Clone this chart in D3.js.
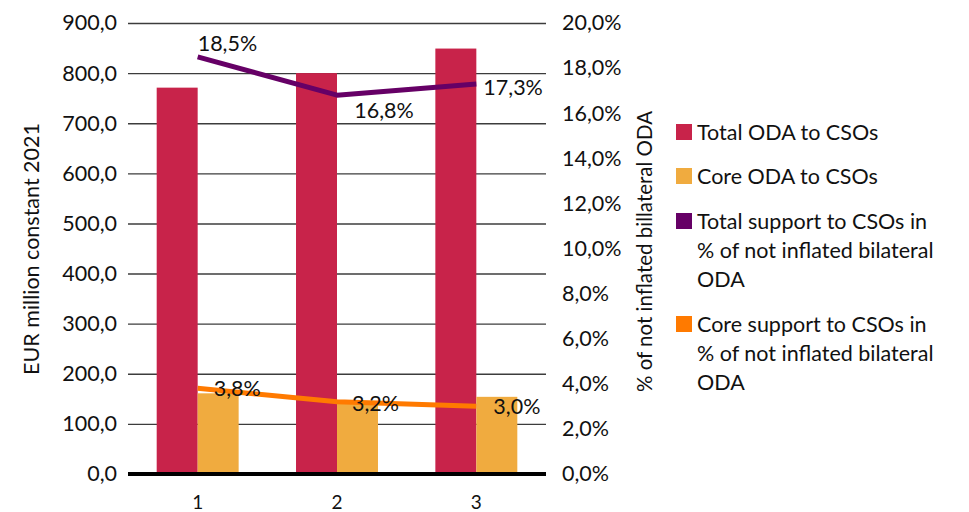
<!DOCTYPE html>
<meta charset="utf-8">
<head>
  <title>ODA to CSOs</title>
</head>

<style>
  body { margin: 0; background: #fff; }
  svg text { font-family: Lato, "Open Sans", sans-serif; fill: #111; }
</style>

<body>
  <div id="chart"></div>

  <script src="https://d3js.org/d3.v7.min.js"></script>
  <script>

  // data
  var categories = ["1", "2", "3"];
  var totalODA = [771, 800, 849];       // EUR million
  var coreODA = [161, 146, 154];        // EUR million
  var totalShare = [18.5, 16.8, 17.3];  // % of not inflated bilateral ODA
  var coreShare = [3.8, 3.2, 3.0];
  var leftTicks = [0, 100, 200, 300, 400, 500, 600, 700, 800, 900];
  var rightTicks = [0, 2, 4, 6, 8, 10, 12, 14, 16, 18, 20];
  var legendItems = [
    {label: ["Total ODA to CSOs"], color: "#c8234a"},
    {label: ["Core ODA to CSOs"], color: "#f0ab3f"},
    {label: ["Total support to CSOs in", "% of not inflated bilateral", "ODA"], color: "#660066"},
    {label: ["Core support to CSOs in", "% of not inflated bilateral", "ODA"], color: "#ff7a00"}
  ];

  // comma decimal separator like the original
  var locale = d3.formatLocale({decimal: ",", thousands: ".", grouping: [3], currency: ["", "€"]});
  var fmtL = locale.format(".1f");
  var fmtR = function(d) { return locale.format(".1f")(d) + "%"; };

  var W = 969, H = 512;
  var margin = {top: 23, left: 128, right: 423, bottom: 38};
  var width = W - margin.left - margin.right,
      height = H - margin.top - margin.bottom;

  var svg = d3.select("#chart").append("svg")
      .attr("width", W)
      .attr("height", H);
  var g = svg.append("g")
      .attr("transform", "translate(" + margin.left + "," + margin.top + ")");

  var x = d3.scaleBand().domain(categories).range([0, width]);
  var xSub = d3.scaleBand().domain(["total", "core"]).range([0, x.bandwidth()]).paddingOuter(0.7);
  var yL = d3.scaleLinear().domain([0, 900]).range([height, 0]);
  var yR = d3.scaleLinear().domain([0, 20]).range([height, 0]);

  // left axis + gridlines
  var axL = g.append("g")
      .call(d3.axisLeft(yL).tickValues(leftTicks).tickSize(-width).tickPadding(11).tickFormat(fmtL));
  axL.select(".domain").remove();
  axL.selectAll(".tick line").attr("stroke", "#3c3c3c").attr("stroke-width", 1.4)
      .filter(function(d) { return d === 0; }).remove();
  axL.selectAll(".tick text").style("font-size", "21.5px");

  // right axis
  var axR = g.append("g")
      .attr("transform", "translate(" + width + ",0)")
      .call(d3.axisRight(yR).tickValues(rightTicks).tickSize(0).tickPadding(16).tickFormat(fmtR));
  axR.select(".domain").remove();
  axR.selectAll(".tick text").style("font-size", "21.5px");

  // bars
  var rows = categories.map(function(c, i) {
    return {cat: c, vals: [{k: "total", v: totalODA[i]}, {k: "core", v: coreODA[i]}]};
  });
  var colors = {total: legendItems[0].color, core: legendItems[1].color};

  g.selectAll(".grp")
    .data(rows)
    .enter()
    .append("g")
      .attr("transform", function(d) { return "translate(" + x(d.cat) + ",0)"; })
    .selectAll("rect")
    .data(function(d) { return d.vals; })
    .enter()
    .append("rect")
      .attr("x", function(d) { return xSub(d.k); })
      .attr("y", function(d) { return yL(d.v); })
      .attr("width", xSub.bandwidth())
      .attr("height", function(d) { return height - yL(d.v); })
      .style("fill", function(d) { return colors[d.k]; });

  // baseline
  g.append("line")
    .attr("x1", 0).attr("x2", width)
    .attr("y1", yL(0)).attr("y2", yL(0))
    .attr("stroke", "#000").attr("stroke-width", 4);

  // x axis labels
  var axX = g.append("g")
      .attr("transform", "translate(0," + height + ")")
      .call(d3.axisBottom(x).tickSize(0).tickPadding(22));
  axX.select(".domain").remove();
  axX.selectAll(".tick text").style("font-size", "19px");

  // lines on the secondary axis
  var line = d3.line()
      .x(function(d, i) { return x(categories[i]) + x.bandwidth() / 2; })
      .y(function(d) { return yR(d); });

  g.append("path").datum(totalShare)
    .attr("d", line).attr("fill", "none")
    .attr("stroke", legendItems[2].color).attr("stroke-width", 5)
    .attr("stroke-linejoin", "round");
  g.append("path").datum(coreShare)
    .attr("d", line).attr("fill", "none")
    .attr("stroke", legendItems[3].color).attr("stroke-width", 5)
    .attr("stroke-linejoin", "round");

  // data labels (offsets from the point, like Excel placed them)
  var totalLabelOff = [[0, -6, "start"], [47, 23, "middle"], [7, 11, "start"]];
  var coreLabelOff = [[16, 8, "start"], [15, 9, "start"], [17, 8, "start"]];

  function addLabels(vals, offs) {
    g.selectAll(null)
      .data(vals)
      .enter()
      .append("text")
        .attr("x", function(d, i) { return x(categories[i]) + x.bandwidth() / 2 + offs[i][0]; })
        .attr("y", function(d, i) { return yR(d) + offs[i][1]; })
        .attr("text-anchor", function(d, i) { return offs[i][2]; })
        .style("font-size", "21.5px")
        .text(function(d) { return fmtR(d); });
  }
  addLabels(totalShare, totalLabelOff);
  addLabels(coreShare, coreLabelOff);

  // axis titles
  svg.append("text")
    .attr("transform", "translate(38.5," + (margin.top + height / 2 + 0.5) + ") rotate(-90)")
    .attr("text-anchor", "middle")
    .style("font-size", "21.5px")
    .text("EUR million constant 2021");
  svg.append("text")
    .attr("transform", "translate(652," + (margin.top + height / 2 + 3) + ") rotate(-90)")
    .attr("text-anchor", "middle")
    .style("font-size", "20.5px")
    .text("% of not inflated billateral ODA");

  // legend
  var legY = [132, 176, 221, 324];
  var lg = svg.append("g").attr("transform", "translate(676,0)");
  legendItems.forEach(function(it, i) {
    lg.append("rect")
      .attr("x", 0).attr("y", legY[i] - 8)
      .attr("width", 16).attr("height", 16)
      .style("fill", it.color);
    it.label.forEach(function(t, j) {
      lg.append("text")
        .attr("x", 21).attr("y", legY[i] + j * 29)
        .attr("dy", "0.36em")
        .style("font-size", "21.5px")
        .text(t);
    });
  });

  </script>
</body>
</html>
